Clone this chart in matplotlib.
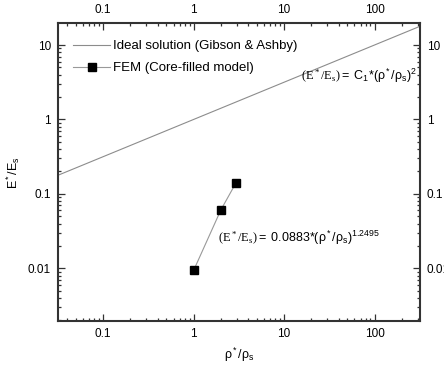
import matplotlib
matplotlib.use("Agg")
import matplotlib.pyplot as plt
import numpy as np
from matplotlib.ticker import LogLocator, FixedLocator, NullFormatter

plt.rcParams["font.family"] = ["Liberation Sans", "DejaVu Sans"]
plt.rcParams["mathtext.fontset"] = "custom"
plt.rcParams["mathtext.rm"] = "Liberation Serif"
plt.rcParams["mathtext.it"] = "Liberation Serif"
plt.rcParams["mathtext.sf"] = "Liberation Sans"

# ideal solution line (Gibson & Ashby), drawn across the whole x range
ideal_x = [0.0316, 316]
ideal_y = [0.178, 17.8]

# FEM core-filled model results
fem_x = [1.0, 2.0, 2.95]
fem_y = [0.0094, 0.061, 0.142]

x_ticks = [0.1, 1, 10, 100]
x_tick_labels = ["0.1", "1", "10", "100"]
y_ticks = [0.01, 0.1, 1, 10]
y_tick_labels = ["0.01", "0.1", "1", "10"]

fig = plt.figure(figsize=(4.44, 3.66), dpi=100)
ax = fig.add_axes([58 / 444, 1 - 321 / 366, (419.7 - 58) / 444, (321 - 23.3) / 366])

ax.plot(ideal_x, ideal_y, color="#8c8c8c", lw=0.8, label="Ideal solution (Gibson & Ashby)")
ax.plot(fem_x, fem_y, color="#999999", lw=0.8, marker="s", ms=5.5,
        mfc="black", mec="black", label="FEM (Core-filled model)")

ax.set_xscale("log")
ax.set_yscale("log")
ax.set_xlim(0.0316, 316)
ax.set_ylim(0.00196, 19.6)

ax.xaxis.set_major_locator(FixedLocator(x_ticks))
ax.set_xticklabels(x_tick_labels)
ax.yaxis.set_major_locator(FixedLocator(y_ticks))
ax.set_yticklabels(y_tick_labels)
ax.xaxis.set_minor_locator(LogLocator(base=10, subs=np.arange(2, 10)))
ax.yaxis.set_minor_locator(LogLocator(base=10, subs=np.arange(2, 10)))
ax.xaxis.set_minor_formatter(NullFormatter())
ax.yaxis.set_minor_formatter(NullFormatter())

ax.tick_params(which="both", direction="in", top=True, right=True,
               labeltop=True, labelright=True, color="#333333",
               labelsize=8.5, width=0.9)
ax.tick_params(which="major", length=5, pad=5)
ax.tick_params(which="minor", length=2.5)
for sp in ax.spines.values():
    sp.set_color("#333333")
    sp.set_linewidth(1.5)

ax.set_xlabel(r"$\mathsf{\rho^*/\rho_s}$", fontsize=9, labelpad=4)
ax.set_ylabel(r"$\mathsf{E^*/E_s}$", fontsize=9, labelpad=4)

leg = ax.legend(loc="upper left", bbox_to_anchor=(0.028, 0.962), frameon=False,
                fontsize=9.5, handlelength=2.8, handletextpad=0.2, labelspacing=0.75,
                borderaxespad=0)

ax.text(301, 366 - 76, r"$\mathrm{(E^*/E_s)}\mathsf{=\ C_1{*}(\rho^*/\rho_s)^2}$",
        transform=None, fontsize=9, va="center", ha="left")
ax.text(218, 366 - 238, r"$\mathrm{(E^*/E_s)}\mathsf{=\ 0.0883{*}(\rho^*/\rho_s)^{1.2495}}$",
        transform=None, fontsize=9, va="center", ha="left")

fig.savefig("out.png", dpi=100)
